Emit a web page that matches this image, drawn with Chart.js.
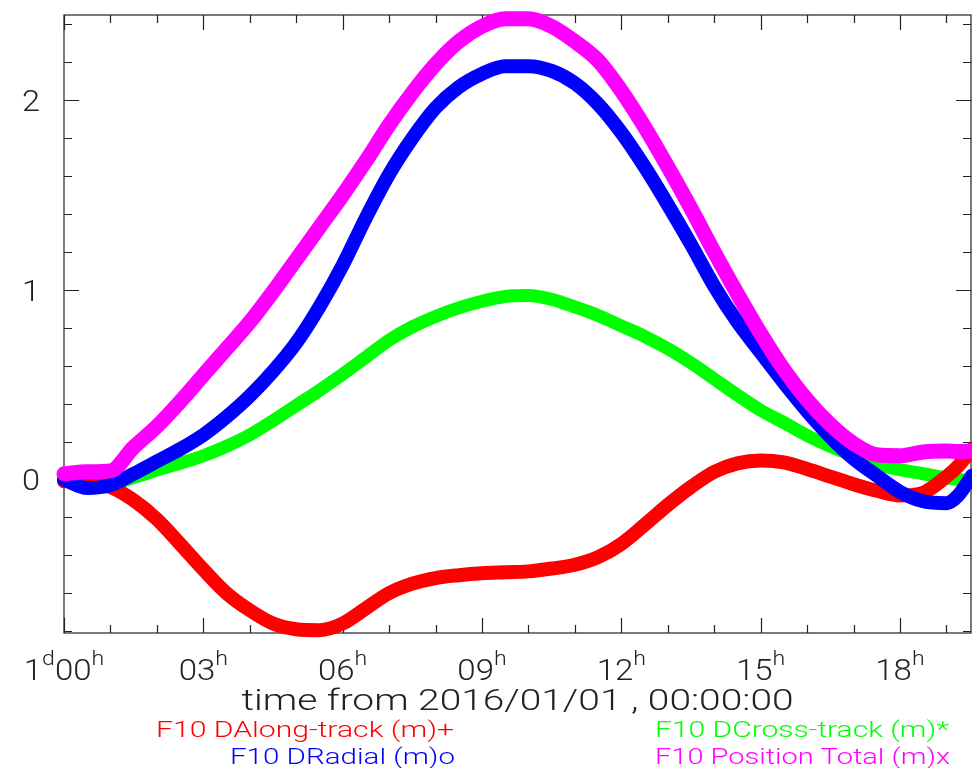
<!DOCTYPE html>
<html lang="en">
<head>
<meta charset="UTF-8">
<title>F10 position differences</title>
<script src="https://cdn.jsdelivr.net/npm/chart.js@4.4.1/dist/chart.umd.min.js"></script>
<style>
  html, body { margin: 0; padding: 0; background: #fff; }
  #wrap { width: 972px; height: 768px; }
</style>
</head>
<body>
<div id="wrap"><canvas id="myChart" width="972" height="768"></canvas></div>
<script>
// hours from 2016/01/01 00:00:00
const hours = [0, 0.5, 1, 1.5, 2, 2.5, 3, 3.5, 4, 4.5, 5, 5.5, 6, 6.5, 7, 7.5, 8, 8.5, 9, 9.5,
               10, 10.5, 11, 11.5, 12, 12.5, 13, 13.5, 14, 14.5, 15, 15.5, 16, 16.5, 17, 17.5,
               18, 18.5, 19, 19.25, 19.55];

// metres
const alongTrack = [-0.01, -0.01, -0.04, -0.11, -0.21, -0.34, -0.475, -0.60, -0.69, -0.76,
                    -0.79, -0.795, -0.76, -0.68, -0.60, -0.55, -0.52, -0.505, -0.495, -0.49,
                    -0.485, -0.47, -0.45, -0.41, -0.34, -0.24, -0.135, -0.04, 0.04, 0.085,
                    0.10, 0.09, 0.055, 0.015, -0.025, -0.06, -0.085, -0.07, 0.015, 0.07, 0.16];
const radial = [0.0, -0.045, -0.03, 0.03, 0.095, 0.16, 0.235, 0.33, 0.44, 0.57,
                0.72, 0.91, 1.13, 1.38, 1.61, 1.80, 1.96, 2.07, 2.14, 2.18,
                2.18, 2.155, 2.09, 1.98, 1.83, 1.65, 1.45, 1.24, 1.02, 0.83,
                0.67, 0.51, 0.36, 0.225, 0.11, 0.02, -0.065, -0.115, -0.125, -0.085, 0.02];
const crossTrack = [0.0, -0.02, -0.02, 0.01, 0.05, 0.085, 0.125, 0.175, 0.235, 0.31,
                    0.39, 0.47, 0.555, 0.645, 0.735, 0.805, 0.86, 0.905, 0.94, 0.965,
                    0.97, 0.95, 0.91, 0.865, 0.81, 0.755, 0.69, 0.615, 0.53, 0.445,
                    0.365, 0.30, 0.232, 0.175, 0.125, 0.08, 0.052, 0.03, 0.008, 0.0, -0.01];
const posTotal = [0.03, 0.04, 0.045, 0.17, 0.28, 0.41, 0.55, 0.69, 0.83, 0.99,
                  1.16, 1.33, 1.50, 1.68, 1.87, 2.04, 2.19, 2.31, 2.39, 2.43,
                  2.43, 2.39, 2.31, 2.21, 2.05, 1.86, 1.65, 1.43, 1.20, 0.98,
                  0.77, 0.58, 0.42, 0.29, 0.19, 0.13, 0.125, 0.145, 0.15, 0.148, 0.15];

const seriesNames = ['F10 DAlong-track (m)+', 'F10 DRadial (m)o', 'F10 DCross-track (m)*', 'F10 Position Total (m)x'];
const seriesColors = ['#ff0000', '#0000ff', '#00ff00', '#ff00ff'];

// axis ticks; '^' toggles superscript
const xMajorTicks = [0, 3, 6, 9, 12, 15, 18];
const xTickLabels = ['1^d^00^h', '03^h', '06^h', '09^h', '12^h', '15^h', '18^h'];
const xMinorTicks = [1, 2, 4, 5, 7, 8, 10, 11, 13, 14, 16, 17, 19];
const yMajorTicks = [0, 1, 2];
const yTickLabels = ['0', '1', '2'];
const yMinorTicks = [-0.8, -0.6, -0.4, -0.2, 0.2, 0.4, 0.6, 0.8, 1.2, 1.4, 1.6, 1.8, 2.2, 2.4];
const xTitle = 'time from 2016/01/01 , 00:00:00';

const FONT = 'Roboto, "DejaVu Sans", sans-serif';
const AXIS = '#222';

function toPoints(ys) {
    return hours.map((h, i) => ({ x: h, y: ys[i] }));
}

// draw text squeezed / stretched to a given width
function fitText(ctx, text, x, y, w, align) {
    const m = ctx.measureText(text).width;
    const sx = w / m;
    ctx.save();
    ctx.translate(x, y);
    ctx.scale(sx, 1);
    ctx.textAlign = align;
    ctx.fillText(text, 0, 0);
    ctx.restore();
}

function drawSupLabel(ctx, label, cx, baseY) {
    const parts = label.split('^');
    const bigFont = '300 30px ' + FONT;
    const supFont = '300 21px ' + FONT;
    const sx = 1.1;
    let total = 0;
    parts.forEach((p, i) => {
        ctx.font = (i % 2 === 0) ? bigFont : supFont;
        total += ctx.measureText(p).width * sx;
    });
    let x = cx - total / 2;
    ctx.textAlign = 'left';
    parts.forEach((p, i) => {
        const sup = i % 2 === 1;
        ctx.font = sup ? supFont : bigFont;
        ctx.save();
        ctx.translate(x, sup ? baseY - 15 : baseY);
        ctx.scale(sx, 1);
        ctx.fillText(p, 0, 0);
        ctx.restore();
        x += ctx.measureText(p).width * sx;
    });
}

const idlAxes = {
    id: 'idlAxes',
    beforeDatasetsDraw(chart) {
        const ctx = chart.ctx;
        const a = chart.chartArea;
        const xs = chart.scales.x, ys = chart.scales.y;
        ctx.save();
        ctx.strokeStyle = AXIS;
        ctx.lineWidth = 1.2;
        ctx.strokeRect(a.left, a.top, a.right - a.left, a.bottom - a.top);
        ctx.beginPath();
        const xt = (v, len) => {
            const px = Math.round(xs.getPixelForValue(v)) + 0.5;
            ctx.moveTo(px, a.bottom); ctx.lineTo(px, a.bottom - len);
            ctx.moveTo(px, a.top); ctx.lineTo(px, a.top + len);
        };
        const yt = (v, len) => {
            const py = Math.round(ys.getPixelForValue(v)) + 0.5;
            ctx.moveTo(a.left, py); ctx.lineTo(a.left + len, py);
            ctx.moveTo(a.right, py); ctx.lineTo(a.right - len, py);
        };
        xMajorTicks.forEach(v => xt(v, 15));
        xMinorTicks.forEach(v => xt(v, 8));
        yMajorTicks.forEach(v => yt(v, 15));
        yMinorTicks.forEach(v => yt(v, 8));
        ctx.stroke();
        ctx.restore();
    },
    afterDraw(chart) {
        const ctx = chart.ctx;
        const a = chart.chartArea;
        const xs = chart.scales.x, ys = chart.scales.y;
        ctx.save();
        ctx.fillStyle = AXIS;
        ctx.textBaseline = 'alphabetic';

        xMajorTicks.forEach((v, i) => {
            drawSupLabel(ctx, xTickLabels[i], xs.getPixelForValue(v), 680);
        });

        ctx.font = '300 30px ' + FONT;
        yMajorTicks.forEach((v, i) => {
            fitText(ctx, yTickLabels[i], a.left - 24, ys.getPixelForValue(v) + 11, 18, 'right');
        });

        ctx.font = '300 30px ' + FONT;
        fitText(ctx, xTitle, (a.left + a.right) / 2, 710, 552, 'center');

        // legend, two columns
        ctx.font = '300 22px ' + FONT;
        const leg = [
            { x: 454, y: 737, w: 298, align: 'right' },
            { x: 455, y: 764, w: 225, align: 'right' },
            { x: 655, y: 737, w: 294, align: 'left' },
            { x: 655, y: 764, w: 295, align: 'left' }
        ];
        seriesNames.forEach((n, i) => {
            ctx.fillStyle = seriesColors[i];
            fitText(ctx, n, leg[i].x, leg[i].y, leg[i].w, leg[i].align);
        });
        ctx.restore();
    }
};

function ds(i, data, width, order) {
    return {
        label: seriesNames[i],
        data: toPoints(data),
        borderColor: seriesColors[i],
        backgroundColor: seriesColors[i],
        borderWidth: width,
        pointRadius: 0,
        fill: false,
        cubicInterpolationMode: 'monotone',
        borderJoinStyle: 'round',
        borderCapStyle: 'round',
        clip: false,
        order: order
    };
}

const ctx = document.getElementById('myChart').getContext('2d');
const myChart = new Chart(ctx, {
    type: 'line',
    data: {
        datasets: [
            ds(0, alongTrack, 14, 2),
            ds(1, radial, 14, 1),
            ds(2, crossTrack, 13, 3),
            ds(3, posTotal, 15, 0)
        ]
    },
    options: {
        responsive: false,
        animation: false,
        devicePixelRatio: 1,
        layout: { padding: { left: 64, right: 1, top: 15, bottom: 135 } },
        scales: {
            x: { type: 'linear', min: 0, max: 19.53, display: false },
            y: { type: 'linear', min: -0.81, max: 2.45, display: false }
        },
        plugins: {
            legend: { display: false },
            tooltip: { enabled: false }
        }
    },
    plugins: [idlAxes]
});
</script>
</body>
</html>
